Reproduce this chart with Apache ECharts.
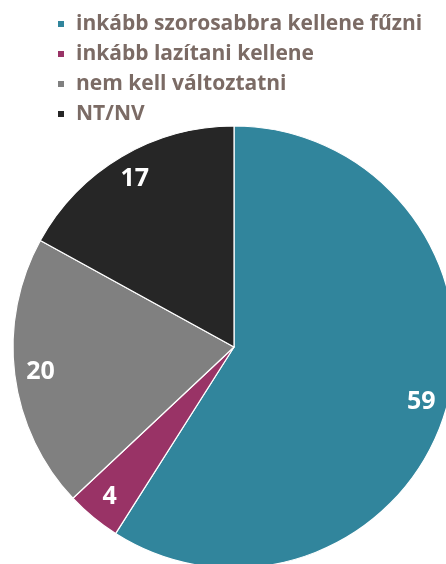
<!DOCTYPE html>
<html>
<head>
<meta charset="utf-8">
<script src="https://cdn.jsdelivr.net/npm/echarts@6/dist/echarts.min.js"></script>
<style>
  html, body { margin: 0; padding: 0; background: #fff; }
  #chart { width: 446px; height: 564px; }
</style>
</head>
<body>
<div id="chart"></div>
<script>
const categories = ['inkább szorosabbra kellene fűzni', 'inkább lazítani kellene', 'nem kell változtatni', 'NT/NV'];
const values = [59, 4, 20, 17];
const colors = ['#31859C', '#993366', '#808080', '#262626'];

const pieData = categories.map((name, i) => ({ name: name, value: values[i], itemStyle: { color: colors[i] } }));

const chart = echarts.init(document.getElementById('chart'));
chart.setOption({
  backgroundColor: '#fff',
  animation: false,
  legend: {
    orient: 'vertical',
    left: 51,
    top: 8,
    itemWidth: 8,
    itemHeight: 8,
    itemGap: 8,
    icon: 'rect',
    data: categories,
    textStyle: {
      color: '#7B6B65',
      fontFamily: 'Open Sans',
      fontWeight: 'bold',
      fontSize: 21,
      lineHeight: 22,
      padding: [0, 0, 0, 6]
    }
  },
  series: [
    {
      // main pie
      type: 'pie',
      center: [234, 347],
      radius: [0, 221],
      startAngle: 90,
      clockwise: true,
      silent: true,
      label: { show: false },
      labelLine: { show: false },
      itemStyle: { borderColor: '#fff', borderWidth: 1.2 },
      data: pieData
    },
    {
      // transparent ring, just to place the labels near the rim
      type: 'pie',
      center: [234, 347],
      radius: [163, 221],
      startAngle: 90,
      clockwise: true,
      silent: true,
      itemStyle: { color: 'rgba(0,0,0,0)' },
      label: {
        show: true,
        position: 'inside',
        formatter: '{c}',
        color: '#fff',
        fontFamily: 'Open Sans',
        fontWeight: 'bold',
        fontSize: 25
      },
      labelLine: { show: false },
      data: categories.map((name, i) => ({ name: name, value: values[i], itemStyle: { color: 'rgba(0,0,0,0)' } }))
    }
  ]
});
</script>
</body>
</html>
